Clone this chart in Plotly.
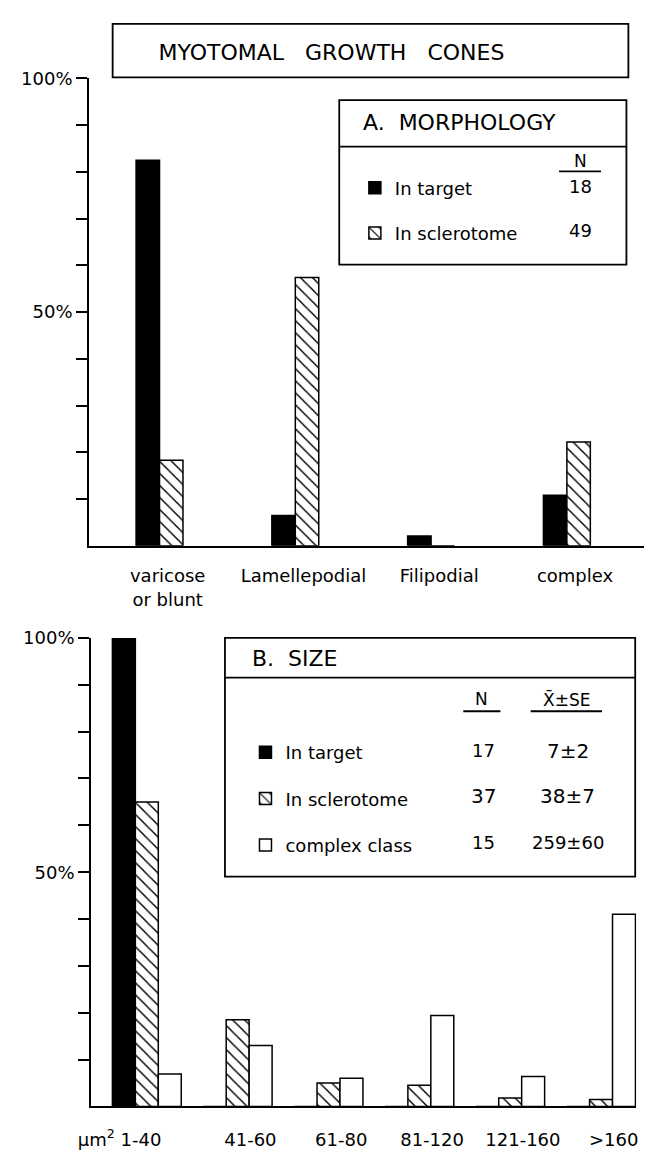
import numpy as np
import plotly.graph_objects as go

# ---------------- data ----------------
morph_categories = ["varicose<br>or blunt", "Lamellepodial", "Filipodial", "complex"]
morph_in_target = [82.5, 6.5, 2.1, 10.8]
morph_in_sclerotome = [18.3, 57.4, 0.0, 22.2]
morph_groups = ["In target", "In sclerotome"]
morph_N = ["18", "49"]

size_categories = ["μm<sup>2</sup> 1-40", "41-60", "61-80", "81-120", "121-160", ">160"]
size_in_target = [100.0, 0, 0, 0, 0, 0]
size_in_sclerotome = [65.0, 18.5, 5.0, 4.5, 1.8, 1.5]
size_complex_class = [6.9, 13.0, 6.0, 19.4, 6.4, 41.0]
size_groups = ["In target", "In sclerotome", "complex class"]
size_N = ["17", "37", "15"]
size_mean_se = ["7±2", "38±7", "259±60"]

y_major_ticks = [50, 100]
y_major_labels = ["50%", "100%"]
y_minor_ticks = [10, 20, 30, 40, 60, 70, 80, 90]

# ---------------- layout helpers ----------------
W, H = 646, 1151
FONT = "DejaVu Sans"


def px(x):
    return x / W


def py(y):
    return 1 - y / H


xa = np.arange(len(morph_categories))
xb = np.arange(len(size_categories))
wa = 0.1727
wb = 0.2527

hatch = dict(shape="\\", size=8.5, solidity=0.17, fgcolor="black", bgcolor="white", fillmode="replace")
line_k = dict(color="black", width=1.5)

fig = go.Figure()

# Panel A
fig.add_trace(go.Bar(x=xa, y=morph_in_target, width=wa, offset=-wa, name=morph_groups[0],
                     marker=dict(color="black", line=line_k), xaxis="x", yaxis="y",
                     legend="legend", legendgroup="a1"))
fig.add_trace(go.Bar(x=xa, y=morph_in_sclerotome, width=wa, offset=0, name=morph_groups[1],
                     marker=dict(color="white", pattern=hatch, line=line_k), xaxis="x", yaxis="y",
                     legend="legend", legendgroup="a2"))

# Panel B
fig.add_trace(go.Bar(x=xb, y=size_in_target, width=wb, offset=-1.5 * wb, name=size_groups[0],
                     marker=dict(color="black", line=line_k), xaxis="x2", yaxis="y2",
                     legend="legend2", legendgroup="b1"))
fig.add_trace(go.Bar(x=xb, y=size_in_sclerotome, width=wb, offset=-0.5 * wb, name=size_groups[1],
                     marker=dict(color="white", pattern=hatch, line=line_k), xaxis="x2", yaxis="y2",
                     legend="legend2", legendgroup="b2"))
fig.add_trace(go.Bar(x=xb, y=size_complex_class, width=wb, offset=0.5 * wb, name=size_groups[2],
                     marker=dict(color="white", line=line_k), xaxis="x2", yaxis="y2",
                     legend="legend2", legendgroup="b3"))

label_off_a = 0.06
label_off_b = [-0.30, 0.14, 0.14, 0.14, 0.14, 0.14]

yaxis_common = dict(range=[0, 100], tickvals=y_major_ticks, ticktext=y_major_labels, ticks="outside",
                    ticklen=11, tickwidth=2, tickcolor="black", showline=True, linewidth=2,
                    linecolor="black", showgrid=False, zeroline=False,
                    minor=dict(tickvals=y_minor_ticks, ticks="outside", ticklen=11, tickwidth=2,
                               tickcolor="black", showgrid=False),
                    tickfont=dict(family=FONT, size=18, color="black"))

fig.update_layout(
    width=W, height=H, autosize=False,
    margin=dict(l=0, r=0, t=0, b=0),
    paper_bgcolor="white", plot_bgcolor="white",
    barmode="overlay",
    showlegend=True,
    title=dict(text="MYOTOMAL   GROWTH   CONES", x=px(326), y=py(42), xanchor="center",
               yanchor="middle", xref="paper", yref="paper",
               font=dict(family=FONT, size=22, color="black")),
    xaxis=dict(domain=[px(78), px(646)], range=[-0.518, 3.568], anchor="y",
               tickvals=list(xa + label_off_a), ticktext=morph_categories, ticks="",
               showline=True, linewidth=2, linecolor="black", showgrid=False, zeroline=False,
               ticklabelstandoff=13, tickfont=dict(family=FONT, size=18, color="black")),
    yaxis=dict(domain=[py(540), py(68)], anchor="x", **yaxis_common),
    xaxis2=dict(domain=[px(80), px(638)], range=[-0.613, 5.387], anchor="y2",
                tickvals=list(xb + np.array(label_off_b)), ticktext=size_categories, ticks="",
                showline=True, linewidth=2, linecolor="black", showgrid=False, zeroline=False,
                ticklabelstandoff=16, tickfont=dict(family=FONT, size=18, color="black")),
    yaxis2=dict(domain=[py(1106), py(633)], anchor="x2", **yaxis_common),
    legend=dict(x=px(350), y=py(160), xanchor="left", yanchor="top", bgcolor="rgba(0,0,0,0)",
                traceorder="grouped", tracegroupgap=19,
                font=dict(family=FONT, size=18, color="black")),
    legend2=dict(x=px(238), y=py(730), xanchor="left", yanchor="top", bgcolor="rgba(0,0,0,0)",
                 traceorder="grouped", tracegroupgap=20,
                 font=dict(family=FONT, size=18, color="black")),
)

box = dict(color="black", width=1.8)
shapes = [
    dict(type="rect", xref="paper", yref="paper", x0=px(102), x1=px(630), y0=py(67), y1=py(13), line=box),
    dict(type="rect", xref="paper", yref="paper", x0=px(334), x1=px(628), y0=py(256), y1=py(90), line=box),
    dict(type="line", xref="paper", yref="paper", x0=px(334), x1=px(628), y0=py(137), y1=py(137), line=box),
    dict(type="line", xref="paper", yref="paper", x0=px(559), x1=px(602), y0=py(162), y1=py(162), line=box),
    dict(type="rect", xref="paper", yref="paper", x0=px(217), x1=px(637), y0=py(874), y1=py(633), line=box),
    dict(type="line", xref="paper", yref="paper", x0=px(217), x1=px(637), y0=py(673), y1=py(673), line=box),
    dict(type="line", xref="paper", yref="paper", x0=px(461), x1=px(499), y0=py(707), y1=py(707), line=box),
    dict(type="line", xref="paper", yref="paper", x0=px(530), x1=px(603), y0=py(707), y1=py(707), line=box),
]
fig.update_layout(shapes=shapes)


def ann(text, x, y, size=18, xanchor="center"):
    fig.add_annotation(text=text, x=px(x), y=py(y), xref="paper", yref="paper", showarrow=False,
                       xanchor=xanchor, yanchor="middle", font=dict(family=FONT, size=size, color="black"))


ann("A.  MORPHOLOGY", 356, 113, size=22, xanchor="left")
ann("N", 581, 151, size=17)
rows_a = [177, 222]
for i, n in enumerate(morph_N):
    ann(n, 581, rows_a[i], size=18)

ann("B.  SIZE", 243, 654, size=22, xanchor="left")
ann("N", 480, 695, size=17)
ann("X\u0304±SE", 567, 695, size=17)
rows_b = [747, 793, 840]
for i in range(len(size_groups)):
    ann(size_N[i], 482, rows_b[i], size=20 if i == 1 else 18)
    ann(size_mean_se[i], 568, rows_b[i], size=20 if i < 2 else 18)

fig.write_html("out.html")
